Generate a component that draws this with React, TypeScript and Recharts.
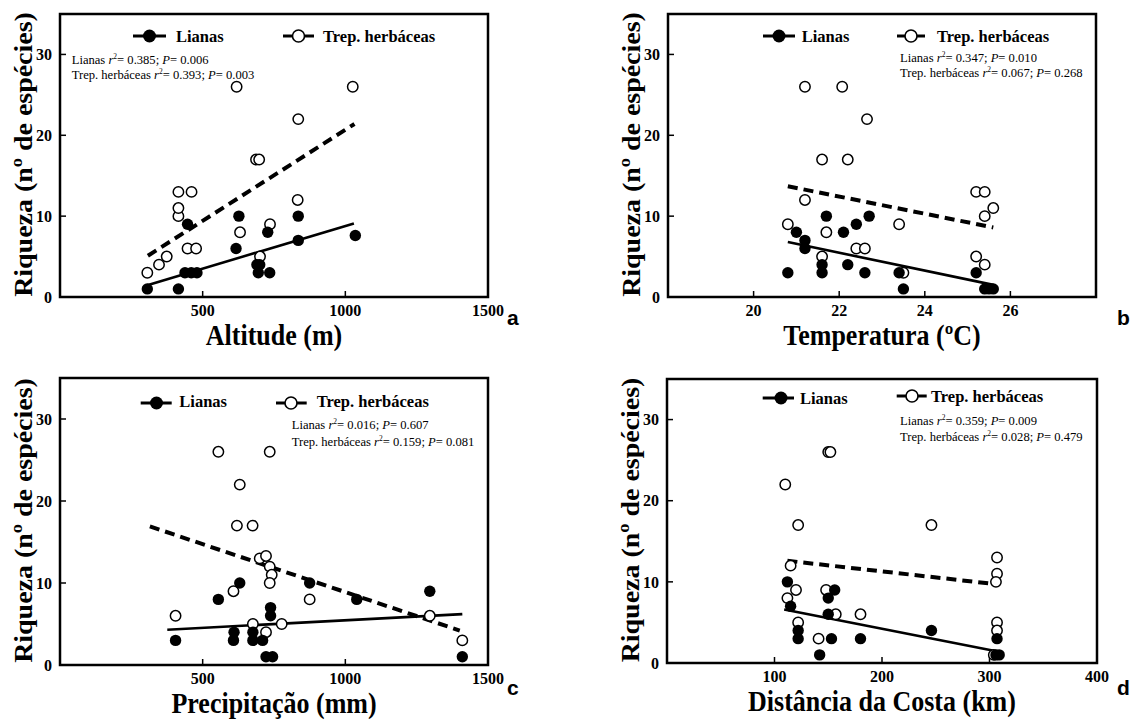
import { ScatterChart, Scatter, XAxis, YAxis, ReferenceLine, ReferenceArea } from 'recharts';

type Pt = [number, number];

const SERIF = "'Liberation Serif', 'Times New Roman', serif";
const SANS = "'Liberation Sans', Arial, sans-serif";

// shared y axis
const richDomain: Pt = [0, 35];
const richTicks = [0, 10, 20, 30];
const richLabel = 'Riqueza (nº de espécies)';

// a - altitude
const altDomain: Pt = [0, 1500];
const altTicks = [500, 1000, 1500];
const altLianas: Pt[] = [
  [306, 1], [415, 1], [447, 9], [438, 3], [460, 3], [480, 3], [617, 6], [627, 10],
  [690, 4], [700, 4], [695, 3], [735, 3], [728, 8], [835, 7], [835, 10], [1035, 7.6],
];
const altTrep: Pt[] = [
  [306, 3], [347, 4], [374, 5], [415, 10], [415, 11], [415, 13], [461, 13], [447, 6],
  [477, 6], [631, 8], [619, 26], [687, 17], [698, 17], [701, 5], [736, 9], [835, 22],
  [833, 12], [1026, 26],
];
const altFitLianas: Pt[] = [[300, 1.4], [1030, 9.1]];
const altFitTrep: Pt[] = [[308, 5.1], [1032, 21.4]];
const altStats = ['0.385', '0.006', '0.393', '0.003'];

// b - temperatura
const tempDomain: Pt = [18, 28];
const tempTicks = [20, 22, 24, 26];
const tempLianas: Pt[] = [
  [20.8, 3], [21.0, 8], [21.2, 7], [21.2, 6], [21.6, 4], [21.6, 3], [21.7, 10], [22.1, 8],
  [22.2, 4], [22.4, 9], [22.6, 3], [22.7, 10], [23.4, 3], [23.5, 1], [25.2, 3], [25.4, 1],
  [25.5, 1], [25.6, 1],
];
const tempTrep: Pt[] = [
  [21.2, 26], [22.07, 26], [22.65, 22], [21.6, 17], [22.2, 17], [21.2, 12], [20.8, 9], [21.7, 8],
  [21.6, 5], [22.4, 6], [22.6, 6], [23.4, 9], [23.5, 3], [25.2, 13], [25.4, 13], [25.6, 11],
  [25.4, 10], [25.2, 5], [25.4, 4],
];
const tempFitLianas: Pt[] = [[20.8, 6.8], [25.6, 1.5]];
const tempFitTrep: Pt[] = [[20.8, 13.7], [25.6, 8.6]];
const tempStats = ['0.347', '0.010', '0.067', '0.268'];

// c - precipitacao
const precDomain: Pt = [0, 1500];
const precTicks = [500, 1000, 1500];
const precLianas: Pt[] = [
  [405, 3], [555, 8], [630, 10], [610, 4], [608, 3], [676, 4], [676, 3], [710, 3],
  [738, 7], [738, 6], [722, 1], [745, 1], [875, 10], [1040, 8], [1296, 9], [1410, 1],
];
const precTrep: Pt[] = [
  [405, 6], [555, 26], [735, 26], [630, 22], [620, 17], [675, 17], [700, 13], [722, 13.3],
  [735, 12], [742, 11], [735, 10], [608, 9], [875, 8], [676, 5], [722, 4], [777, 5],
  [1296, 6], [1410, 3],
];
const precFitLianas: Pt[] = [[376, 4.3], [1410, 6.2]];
const precFitTrep: Pt[] = [[315, 16.9], [1401, 4.2]];
const precStats = ['0.016', '0.607', '0.159', '0.081'];

// d - distancia da costa
const distDomain: Pt = [0, 400];
const distTicks = [100, 200, 300, 400];
const distLianas: Pt[] = [
  [112, 10], [115, 7], [122, 4], [122, 3], [142, 1], [150, 8], [156, 9], [150, 6],
  [153, 3], [180, 3], [246, 4], [307, 3], [306, 1], [309, 1],
];
const distTrep: Pt[] = [
  [110, 22], [150, 26], [152, 26], [122, 17], [246, 17], [115, 12], [112, 8], [120, 9],
  [122, 5], [148, 9], [157, 6], [180, 6], [141, 3], [307, 13], [307, 11], [306, 10],
  [307, 5], [307, 4], [304, 1],
];
const distFitLianas: Pt[] = [[109, 6.6], [304, 1.5]];
const distFitTrep: Pt[] = [[112, 12.6], [307, 9.7]];
const distStats = ['0.359', '0.009', '0.028', '0.479'];

type Frame = { left: number; top: number; width: number; height: number };

type PanelProps = {
  frame: Frame;
  xDomain: Pt;
  xTicks: number[];
  xLabel: string;
  lianas: Pt[];
  trep: Pt[];
  fitLianas: Pt[];
  fitTrep: Pt[];
};

const toXY = (pts: Pt[]) => pts.map(([x, y]) => ({ x, y }));

const filledDot = (p: any) => <circle cx={p.cx} cy={p.cy} r={5.7} fill="#000" />;
const openDot = (p: any) => (
  <circle cx={p.cx} cy={p.cy} r={5.2} fill="#fff" stroke="#000" strokeWidth={1.5} />
);

// serif bold tick labels (drawn by hand so the font sticks)
const xTick = (p: any) => (
  <text
    x={p.x}
    y={p.y}
    dy="0.71em"
    textAnchor="middle"
    fill="#000"
    fontSize={16}
    fontWeight={700}
    fontFamily={SERIF}
  >
    {p.payload.value}
  </text>
);
const yTick = (p: any) => (
  <text
    x={p.x}
    y={p.y}
    dy="0.355em"
    textAnchor="end"
    fill="#000"
    fontSize={16}
    fontWeight={700}
    fontFamily={SERIF}
  >
    {p.payload.value}
  </text>
);

// axis titles, slightly stretched along the vertical like the scan
const xTitle = (text: string) => (p: any) => {
  const vb = p.viewBox || { x: 60, y: 0, width: 0, height: 30 };
  const cx = vb.x + vb.width / 2;
  const by = vb.y + vb.height + 18;
  return (
    <text
      transform={`translate(${cx},${by}) scale(1,1.12)`}
      textAnchor="middle"
      fill="#000"
      fontSize={26}
      fontWeight={700}
      fontFamily={SERIF}
    >
      {text}
    </text>
  );
};
const yTitle = (p: any) => {
  const vb = p.viewBox || { x: 0, y: 14, width: 60, height: 283 };
  const cx = vb.x + 23;
  const cy = vb.y + vb.height / 2 - 1;
  return (
    <text
      transform={`translate(${cx},${cy}) rotate(-90) scale(1.075,1)`}
      textAnchor="middle"
      dy="0.35em"
      fill="#000"
      fontSize={26}
      fontWeight={700}
      fontFamily={SERIF}
    >
      {richLabel}
    </text>
  );
};

function Panel({ frame, xDomain, xTicks, xLabel, lianas, trep, fitLianas, fitTrep }: PanelProps) {
  const width = frame.width + 80;
  const height = frame.height + 84;
  return (
    <div style={{ position: 'absolute', left: frame.left - 60, top: frame.top - 14 }}>
      <ScatterChart
        width={width}
        height={height}
        margin={{ top: 14, right: 20, bottom: 40, left: 0 }}
      >
        <XAxis
          type="number"
          dataKey="x"
          domain={xDomain}
          ticks={xTicks}
          height={30}
          axisLine={false}
          tickSize={-6}
          tickMargin={14}
          tickLine={{ stroke: '#000', strokeWidth: 1.5 }}
          tick={xTick}
          allowDataOverflow
          label={xTitle(xLabel)}
        />
        <YAxis
          type="number"
          dataKey="y"
          domain={richDomain}
          ticks={richTicks}
          width={60}
          axisLine={false}
          tickSize={-6}
          tickMargin={14}
          tickLine={{ stroke: '#000', strokeWidth: 1.5 }}
          tick={yTick}
          allowDataOverflow
          label={yTitle}
        />
        <ReferenceArea
          x1={xDomain[0]}
          x2={xDomain[1]}
          y1={richDomain[0]}
          y2={richDomain[1]}
          fill="none"
          stroke="#000"
          strokeWidth={2.5}
        />
        <ReferenceLine
          segment={toXY(fitTrep)}
          stroke="#000"
          strokeWidth={4}
          strokeDasharray="10 6"
        />
        <ReferenceLine segment={toXY(fitLianas)} stroke="#000" strokeWidth={2.6} />
        <Scatter data={toXY(trep)} shape={openDot} isAnimationActive={false} />
        <Scatter data={toXY(lianas)} shape={filledDot} isAnimationActive={false} />
      </ScatterChart>
    </div>
  );
}

type LegendPos = {
  g1: number[]; // x0, x1, cx, y
  t1: number[]; // x, baseline
  g2: number[];
  t2: number[];
  s: number[]; // x, baseline1, baseline2
};

function Notes({ pos, stats }: { pos: LegendPos; stats: string[] }) {
  const { g1, t1, g2, t2, s } = pos;
  return (
    <g fontFamily={SERIF} fill="#000">
      <line x1={g1[0]} x2={g1[1]} y1={g1[3]} y2={g1[3]} stroke="#000" strokeWidth={3} />
      <circle cx={g1[2]} cy={g1[3]} r={6.5} fill="#000" />
      <text x={t1[0]} y={t1[1]} fontSize={16.5} fontWeight={700}>Lianas</text>
      <line x1={g2[0]} x2={g2[1]} y1={g2[3]} y2={g2[3]} stroke="#000" strokeWidth={3} />
      <circle cx={g2[2]} cy={g2[3]} r={6} fill="#fff" stroke="#000" strokeWidth={1.6} />
      <text x={t2[0]} y={t2[1]} fontSize={16.5} fontWeight={700}>Trep. herbáceas</text>
      <text x={s[0]} y={s[1]} fontSize={12.6}>
        Lianas <tspan fontStyle="italic">r</tspan>
        <tspan fontSize={7.5} dy={-5}>2</tspan>
        <tspan dy={5}>= {stats[0]}; </tspan>
        <tspan fontStyle="italic">P</tspan>= {stats[1]}
      </text>
      <text x={s[0]} y={s[2]} fontSize={12.6}>
        Trep. herbáceas <tspan fontStyle="italic">r</tspan>
        <tspan fontSize={7.5} dy={-5}>2</tspan>
        <tspan dy={5}>= {stats[2]}; </tspan>
        <tspan fontStyle="italic">P</tspan>= {stats[3]}
      </text>
    </g>
  );
}

const posA: LegendPos = {
  g1: [133, 166, 149.5, 36], t1: [176, 41.7],
  g2: [283, 314, 298.5, 36], t2: [323, 41.7],
  s: [71.7, 63.7, 79.3],
};
const posB: LegendPos = {
  g1: [763, 795, 779, 36], t1: [801.7, 41.7],
  g2: [897, 925, 911, 36], t2: [937, 41.7],
  s: [900, 62, 76.7],
};
const posC: LegendPos = {
  g1: [140.7, 171.7, 156.5, 403], t1: [179.3, 407.3],
  g2: [276, 306.7, 291, 403], t2: [316.7, 407.3],
  s: [291.7, 429.3, 445.7],
};
const posD: LegendPos = {
  g1: [762.7, 794, 781, 398], t1: [800, 404],
  g2: [896.7, 926.7, 912, 396], t2: [931, 401.7],
  s: [900, 425, 440.7],
};

export default function App() {
  return (
    <div
      style={{
        position: 'absolute',
        left: 0,
        top: 0,
        width: 1134,
        height: 720,
        background: '#fff',
        overflow: 'hidden',
        fontFamily: SERIF,
      }}
    >
      <Panel
        frame={{ left: 60, top: 14, width: 428, height: 283 }}
        xDomain={altDomain}
        xTicks={altTicks}
        xLabel="Altitude (m)"
        lianas={altLianas}
        trep={altTrep}
        fitLianas={altFitLianas}
        fitTrep={altFitTrep}
      />
      <Panel
        frame={{ left: 668, top: 14, width: 428, height: 283 }}
        xDomain={tempDomain}
        xTicks={tempTicks}
        xLabel="Temperatura (ºC)"
        lianas={tempLianas}
        trep={tempTrep}
        fitLianas={tempFitLianas}
        fitTrep={tempFitTrep}
      />
      <Panel
        frame={{ left: 60, top: 378, width: 428, height: 287 }}
        xDomain={precDomain}
        xTicks={precTicks}
        xLabel="Precipitação (mm)"
        lianas={precLianas}
        trep={precTrep}
        fitLianas={precFitLianas}
        fitTrep={precFitTrep}
      />
      <Panel
        frame={{ left: 667, top: 379, width: 430, height: 284 }}
        xDomain={distDomain}
        xTicks={distTicks}
        xLabel="Distância da Costa (km)"
        lianas={distLianas}
        trep={distTrep}
        fitLianas={distFitLianas}
        fitTrep={distFitTrep}
      />
      <svg
        width={1134}
        height={720}
        style={{ position: 'absolute', left: 0, top: 0, pointerEvents: 'none' }}
      >
        <Notes pos={posA} stats={altStats} />
        <Notes pos={posB} stats={tempStats} />
        <Notes pos={posC} stats={precStats} />
        <Notes pos={posD} stats={distStats} />
        <g fontFamily={SANS} fontWeight={700} fontSize={21} fill="#000">
          <text x={507} y={325}>a</text>
          <text x={1117} y={325}>b</text>
          <text x={507} y={695}>c</text>
          <text x={1117} y={695}>d</text>
        </g>
      </svg>
    </div>
  );
}
